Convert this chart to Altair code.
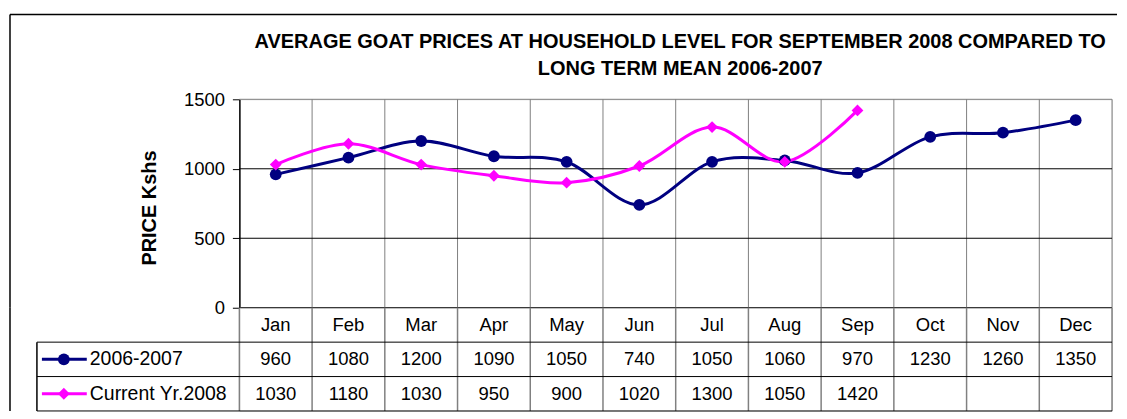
import altair as alt
import pandas as pd

months = ["Jan", "Feb", "Mar", "Apr", "May", "Jun", "Jul", "Aug", "Sep", "Oct", "Nov", "Dec"]
long_term = [960, 1080, 1200, 1090, 1050, 740, 1050, 1060, 970, 1230, 1260, 1350]
current = [1030, 1180, 1030, 950, 900, 1020, 1300, 1050, 1420, None, None, None]
series_names = ["2006-2007", "Current Yr.2008"]
series_colors = ["#000080", "#FF00FF"]
series_shapes = ["circle", "diamond"]
y_ticks = [0, 500, 1000, 1500]
title_lines = ["AVERAGE GOAT PRICES AT HOUSEHOLD LEVEL FOR SEPTEMBER 2008 COMPARED TO",
               "LONG TERM MEAN 2006-2007"]
y_title = "PRICE Kshs"

FONT = "Liberation Sans"
W, H = 875, 209
HT = 103.5
GRAY = "#808080"

# ---------- data frames ----------
rows = []
for name, vals in zip(series_names, [long_term, current]):
    for i, v in enumerate(vals):
        if v is not None:
            rows.append({"month": months[i], "pos": i + 0.5, "series": name, "price": v})
lines_df = pd.DataFrame(rows)

bounds_df = pd.DataFrame({"b": list(range(0, len(months) + 1))})
hgrid_df = pd.DataFrame({"v": [500, 1000]})
zero_df = pd.DataFrame({"v": [0]})
one = pd.DataFrame({"k": [0]})

table_rows = []
for i, m in enumerate(months):
    table_rows.append({"label": m, "pos": i + 0.5, "r": 0.5})
for ri, vals in enumerate([long_term, current]):
    for i, v in enumerate(vals):
        if v is not None:
            table_rows.append({"label": str(v), "pos": i + 0.5, "r": ri + 1.5})
table_df = pd.DataFrame(table_rows)
legend_df = pd.DataFrame({"series": series_names, "r": [1.5, 2.5]})
hlines_df = pd.DataFrame({"r": [1, 2, 3]})
lborder_df = pd.DataFrame({"r": [1], "r2": [3]})

xs = alt.Scale(domain=[0, 12])
color = alt.Color("series:N", scale=alt.Scale(domain=series_names, range=series_colors), legend=None)
shape = alt.Shape("series:N", scale=alt.Scale(domain=series_names, range=series_shapes), legend=None)
ys = alt.Scale(domain=[0, 1500])
yaxis = alt.Axis(values=y_ticks, title=None, grid=False, domainColor="black", format="d",
                 tickColor="black", tickSize=7, labelPadding=8, labelFont=FONT,
                 labelFontSize=18.5, labelColor="black", domainWidth=1.5, tickWidth=1)

# ---------- top chart ----------
vgrid = alt.Chart(bounds_df).transform_filter("datum.b > 0").mark_rule(color=GRAY, strokeWidth=1).encode(
    x=alt.X("b:Q", scale=xs, axis=None), y=alt.value(0), y2=alt.value(H))
top_border = alt.Chart(one).mark_rule(color=GRAY, strokeWidth=1).encode(
    x=alt.value(0), x2=alt.value(W), y=alt.value(0))
hgrid = alt.Chart(hgrid_df).mark_rule(color="black", strokeWidth=1).encode(
    y=alt.Y("v:Q", scale=ys, axis=yaxis), x=alt.value(0), x2=alt.value(W))
zero = alt.Chart(zero_df).mark_rule(color="black", strokeWidth=1.5).encode(
    y=alt.Y("v:Q", scale=ys, axis=yaxis), x=alt.value(0), x2=alt.value(W))

base = alt.Chart(lines_df).encode(
    x=alt.X("pos:Q", scale=xs, axis=None),
    y=alt.Y("price:Q", scale=ys, axis=yaxis),
    color=color,
)
lines = base.mark_line(interpolate="cardinal", strokeWidth=3)
points = base.mark_point(filled=True, size=140, opacity=1).encode(shape=shape)

title = alt.Chart(one).mark_text(text=title_lines, font=FONT, fontSize=20, fontWeight="bold",
                                 align="center", baseline="alphabetic", lineHeight=27,
                                 color="black").encode(x=alt.value(442), y=alt.value(-51))
ytitle = alt.Chart(one).mark_text(text=y_title, font=FONT, fontSize=20, fontWeight="bold",
                                  align="center", baseline="middle", angle=270,
                                  color="black").encode(x=alt.value(-90), y=alt.value(109))
outer_top = alt.Chart(one).mark_rule(color="black", strokeWidth=1.5).encode(
    x=alt.value(-230), x2=alt.value(880), y=alt.value(-85))
outer_left_top = alt.Chart(one).mark_rule(color="black", strokeWidth=1.5).encode(
    x=alt.value(-230), y=alt.value(-85), y2=alt.value(H))

top = alt.layer(vgrid, top_border, hgrid, lines, points, zero, title, ytitle,
                outer_top, outer_left_top).properties(width=W, height=H)

# ---------- table ----------
ts = alt.Scale(domain=[0, 3], reverse=True)
t_vgrid = alt.Chart(bounds_df).mark_rule(color=GRAY, strokeWidth=1.5).encode(
    x=alt.X("b:Q", scale=xs, axis=None), y=alt.value(0), y2=alt.value(HT))
t_hlines = alt.Chart(hlines_df).mark_rule(color="black", strokeWidth=1).encode(
    y=alt.Y("r:Q", scale=ts, axis=None), x=alt.value(-203), x2=alt.value(W))
t_lborder = alt.Chart(lborder_df).mark_rule(color="black", strokeWidth=1.5).encode(
    x=alt.value(-203), y=alt.Y("r:Q", scale=ts, axis=None), y2="r2:Q")
t_outer = alt.Chart(one).mark_rule(color="black", strokeWidth=1.5).encode(
    x=alt.value(-230), y=alt.value(0), y2=alt.value(HT))
t_text = alt.Chart(table_df).mark_text(font=FONT, fontSize=18.5, color="black",
                                       align="center", baseline="middle").encode(
    x=alt.X("pos:Q", scale=xs, axis=None), y=alt.Y("r:Q", scale=ts, axis=None), text="label:N")
leg_base = alt.Chart(legend_df).encode(y=alt.Y("r:Q", scale=ts, axis=None), color=color)
leg_line = leg_base.mark_rule(strokeWidth=3).encode(x=alt.value(-198), x2=alt.value(-153))
leg_pt = leg_base.mark_point(filled=True, size=140, opacity=1).encode(x=alt.value(-176), shape=shape)
leg_text = leg_base.mark_text(font=FONT, fontSize=19.5, align="left", baseline="middle").encode(
    x=alt.value(-150), text="series:N", color=alt.value("black"))

table = alt.layer(t_vgrid, t_hlines, t_lborder, t_outer, t_text, leg_line, leg_pt, leg_text
                  ).properties(width=W, height=HT)

chart = alt.vconcat(top, table, spacing=0, bounds="flush").properties(
    padding={"left": 0, "top": 4, "right": 0, "bottom": 0}, background="white"
).configure_view(strokeWidth=0).configure(font=FONT)

chart.save("out.html", embed_options={"renderer": "svg", "actions": False})
